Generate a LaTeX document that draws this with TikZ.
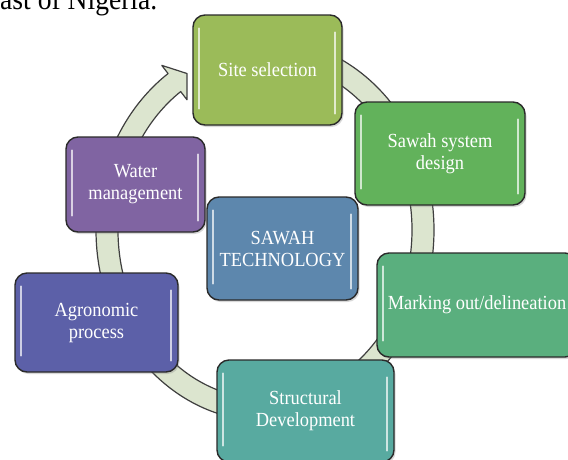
\documentclass[tikz,border=0pt]{standalone}
\usepackage{fontspec}
\newfontfamily\boxfont[FakeStretch=0.92]{Liberation Serif}
\usetikzlibrary{calc,shadows}
\definecolor{ringfill}{HTML}{DCE5CF}
\definecolor{ringline}{HTML}{3F3F3F}
\definecolor{boxline}{HTML}{2A2A2A}
\definecolor{cSite}{HTML}{9BBB59}
\definecolor{cSawah}{HTML}{62B25B}
\definecolor{cMark}{HTML}{5AAF7E}
\definecolor{cStruct}{HTML}{58AAA0}
\definecolor{cAgro}{HTML}{5C60A8}
\definecolor{cWater}{HTML}{8064A2}
\definecolor{cTech}{HTML}{5D87AD}
\tikzset{
  cbox/.style={draw=boxline, line width=1.4pt, rounded corners=12pt,
    text=white, align=center, inner sep=2pt,
    font={\boxfont\fontsize{20}{22}\selectfont},
    drop shadow={opacity=0.3, shadow xshift=1.5pt, shadow yshift=-2pt}},
  hl/.style={draw=white, draw opacity=0.7, line width=1.8pt, line cap=round},
  ring/.style={fill=ringfill, draw=ringline, line width=1.2pt, line join=round}
}
\begin{document}
\begin{tikzpicture}[x=1pt,y=1pt]
\useasboundingbox (0,0) rectangle (568,-459);
\clip (0,0) rectangle (568,-459);
\fill[white] (0,0) rectangle (568,-459);
% caption fragment
\node[anchor=base west, inner sep=0pt, font={\boxfont\fontsize{30}{32}\selectfont}] (cap) at (0,-9) {ast of Nigeria.};
% circular arrow
\coordinate (C) at (265,-230);
\draw[ring] ($(C)+(90:169 and 191)$)
  arc[start angle=90, end angle=-235, x radius=169, y radius=191]
  -- ($(C)+(-235:180 and 201)$)
  -- ($(C)+(-240.4:158 and 180)$)
  -- ($(C)+(-235:136 and 159)$)
  -- ($(C)+(-235:147 and 169)$)
  arc[start angle=-235, end angle=90, x radius=147, y radius=169]
  -- cycle;
% boxes
\node[cbox, fill=cSite, minimum width=149pt, minimum height=110pt] (site) at (267.5,-70) {Site selection};
\node[cbox, fill=cSawah, minimum width=170pt, minimum height=103pt] (sawah) at (440,-153.5) {Sawah system\\design};
\node[cbox, fill=cWater, minimum width=139pt, minimum height=95pt] (water) at (135.5,-184.5) {Water\\management};
\node[cbox, fill=cTech, minimum width=151pt, minimum height=103pt] (tech) at (282.5,-248.5) {SAWAH\\TECHNOLOGY};
\node[cbox, fill=cMark, minimum width=200pt, minimum height=104pt] (mark) at (477,-305) {Marking out/delineation};
\node[cbox, fill=cAgro, minimum width=163pt, minimum height=99pt] (agro) at (96.5,-322.5) {Agronomic\\process};
\node[cbox, fill=cStruct, minimum width=177pt, minimum height=102pt] (struct) at (305.5,-411) {Structural\\Development};
% glossy highlights
\foreach \n in {site,sawah,water,tech,mark,agro,struct}{
  \draw[hl] ([xshift=7pt,yshift=-14pt]\n.north west) -- ([xshift=7pt,yshift=17pt]\n.south west);
  \draw[hl] ([xshift=-8pt,yshift=-18pt]\n.north east) -- ([xshift=-8pt,yshift=12pt]\n.south east);
}
\end{tikzpicture}
\end{document}
